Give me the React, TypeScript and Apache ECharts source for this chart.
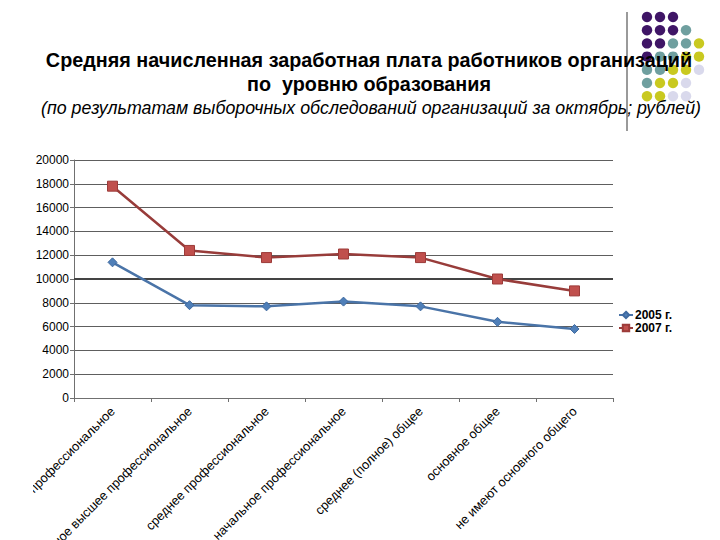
import React, { useEffect, useRef } from "react";
import * as echarts from "echarts";

const categories = [
  "высшее профессиональное",
  "неполное высшее профессиональное",
  "среднее профессиональное",
  "начальное профессиональное",
  "среднее (полное) общее",
  "основное общее",
  "не имеют основного общего",
];
const values2005 = [11400, 7800, 7700, 8100, 7700, 6400, 5800];
const values2007 = [17800, 12400, 11800, 12100, 11800, 10000, 9000];
const seriesNames = ["2005 г.", "2007 г."];
const yMin = 0;
const yMax = 20000;
const yInterval = 2000;
const emphasisLine = 10000;

const titleText =
  "Средняя начисленная заработная плата работников организаций\nпо  уровню образования";
const subtitleText =
  "(по результатам выборочных обследований организаций за октябрь; рублей)";

// decorative dots: rows of colour indices (0 purple,1 teal,2 yellow,3 lavender)
const dotRows = [
  [0, 0, 0],
  [0, 0, 0, 1],
  [0, 0, 1, 1, 2],
  [0, 1, 1, 2, 2],
  [1, 1, 2, 2, 3],
  [1, 2, 2, 3],
  [2, 2, 3, 3],
];
const dotColors = ["#3f1566", "#6f9f9f", "#c9c920", "#d9d9ec"];

const FONT = '"Liberation Sans", Arial, sans-serif';

export default function App() {
  const ref = useRef<HTMLDivElement>(null);

  useEffect(() => {
    if (!ref.current) return;
    const chart = echarts.init(ref.current, undefined, { renderer: "svg" });

    const dots: any[] = [];
    dotRows.forEach((row, r) => {
      row.forEach((ci, c) => {
        dots.push({
          type: "circle",
          shape: { cx: 614 + 13 * c, cy: 17 + 13.2 * r, r: 5.2 },
          style: { fill: dotColors[ci] },
          z: 1,
        });
      });
    });

    chart.setOption({
      animation: false,
      backgroundColor: "#ffffff",
      textStyle: { fontFamily: FONT },
      graphic: [
        ...dots,
        {
          type: "line",
          shape: { x1: 594, y1: 12, x2: 594, y2: 131 },
          style: { stroke: "#9a9a9a", lineWidth: 2 },
          z: 2,
        },
        {
          type: "text",
          x: 336,
          y: 48,
          z: 10,
          style: {
            text: titleText,
            textAlign: "center",
            textVerticalAlign: "top",
            font: `bold 19.8px ${FONT}`,
            lineHeight: 24,
            fill: "#000",
          },
        },
        {
          type: "text",
          x: 338,
          y: 108,
          z: 10,
          style: {
            text: subtitleText,
            textAlign: "center",
            textVerticalAlign: "middle",
            font: `italic 17.8px ${FONT}`,
            fill: "#000",
          },
        },
      ],
      legend: {
        orient: "vertical",
        left: 580,
        top: 304,
        itemWidth: 14,
        itemHeight: 8,
        itemGap: 1,
        textStyle: {
          fontFamily: FONT,
          fontSize: 12,
          lineHeight: 12,
          fontWeight: "bold",
          color: "#000",
          padding: [0, 0, 0, -3],
        },
        data: seriesNames,
      },
      grid: {
        left: 41,
        right: 107,
        top: 160,
        bottom: 142,
        containLabel: false,
        outerBoundsMode: "none",
      },
      xAxis: {
        type: "category",
        data: categories,
        boundaryGap: true,
        axisLine: { lineStyle: { color: "#707070", width: 1 } },
        axisTick: { show: true, length: 4, lineStyle: { color: "#707070" } },
        axisLabel: {
          rotate: 45,
          fontFamily: FONT,
          fontSize: 12.8,
          color: "#000",
          margin: 11,
          interval: 0,
        },
      },
      yAxis: {
        type: "value",
        min: yMin,
        max: yMax,
        interval: yInterval,
        axisLine: { show: true, lineStyle: { color: "#707070" } },
        axisTick: { show: true, length: 4, lineStyle: { color: "#707070" } },
        axisLabel: {
          fontFamily: FONT,
          fontSize: 12,
          color: "#000",
          margin: 5,
          formatter: (v: number) => String(v),
        },
        splitLine: { show: true, lineStyle: { color: "#5e5e5e", width: 1 } },
      },
      series: [
        {
          name: seriesNames[0],
          type: "line",
          data: values2005,
          symbol: "diamond",
          symbolSize: 9,
          itemStyle: { color: "#4f7fb8", borderColor: "#3f6aa0", borderWidth: 1 },
          lineStyle: { color: "#4a74a8", width: 2.5 },
          z: 3,
          markLine: {
            silent: true,
            symbol: "none",
            label: { show: false },
            lineStyle: { color: "#444444", width: 2, type: "solid" },
            data: [{ yAxis: emphasisLine }],
            z: 1,
          },
        },
        {
          name: seriesNames[1],
          type: "line",
          data: values2007,
          symbol: "rect",
          symbolSize: 10,
          itemStyle: { color: "#c0504d", borderColor: "#9c3b39", borderWidth: 1 },
          lineStyle: { color: "#983c3a", width: 2.5 },
          z: 3,
        },
      ],
    });

    return () => chart.dispose();
  }, []);

  return (
    <div style={{ position: "fixed", inset: 0, background: "#fff" }}>
      <div
        ref={ref}
        style={{ position: "absolute", left: 33, top: 0, width: 687, height: 540 }}
      />
    </div>
  );
}
